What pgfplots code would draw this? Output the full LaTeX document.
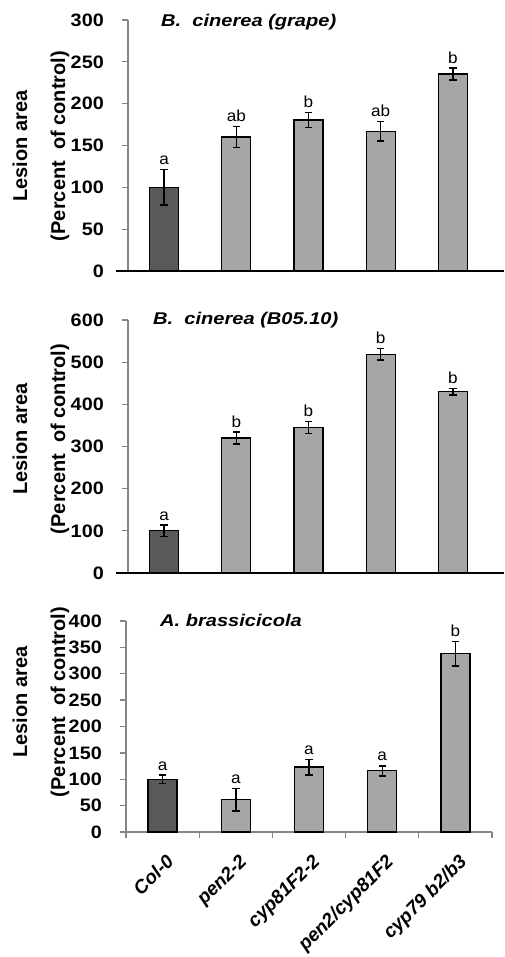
\documentclass[border=0pt]{standalone}
\usepackage{fontspec}
\setmainfont{Liberation Sans}
\usepackage{pgfplots}
\pgfplotsset{compat=1.18}
\definecolor{darkbar}{HTML}{595959}
\definecolor{lightbar}{HTML}{A6A6A6}
\definecolor{axgray}{HTML}{868686}
\pgfplotsset{
 panel/.style={
  scale only axis,
  xmin=-0.5, xmax=4.5, ymin=0,
  axis x line=bottom, axis y line=left,
  axis line style={-, axgray, line width=1.3pt},
  tick align=outside, major tick length=6pt, minor tick length=6pt,
  ytick style={axgray, line width=1.3pt},
  yticklabel style={inner sep=0pt, anchor=east, xshift=-18pt, xscale=1.1, font=\bfseries\fontsize{18}{20}\selectfont},
  /pgf/number format/assume math mode=true,
  ybar, bar width=29pt,
  clip=false,
 },
 mybar/.style={bar shift=0pt, draw=black, line width=1.3pt, fill=#1,
  error bars/.cd, y dir=both, y explicit,
  error bar style={black, line width=1.4pt},
  error mark options={rotate=90, mark size=3.7pt, line width=1.4pt, black}},
}
\tikzset{letter/.style={anchor=south, inner sep=0pt, yshift=4.5pt, xscale=1.07, font=\fontsize{16}{18}\selectfont},
 ylab/.style={rotate=90, anchor=base, inner sep=0pt, font=\bfseries\fontsize{20}{22}\selectfont},
 ttl/.style={anchor=base west, inner sep=0pt, xscale=1.18, font=\bfseries\itshape\fontsize{17}{20}\selectfont}}
\begin{document}
\begin{tikzpicture}
\useasboundingbox (0,0) rectangle (504pt,-957pt);
% ---------- panel 1
\node[ylab] at (27pt,-146pt) {Lesion area};
\node[ylab] at (65pt,-146pt) {(Percent\ \ of control)};
\node[ttl] at (161pt,-27pt) {B.\ \ cinerea (grape)};
\begin{axis}[panel, at={(128pt,-271pt)}, anchor=south west, width=361pt, height=251pt,
  ymax=300, ytick={0,50,...,300}, xtick=\empty, x axis line style={draw=none}]
\addplot[mybar=darkbar] coordinates {(0,100) +- (0,21)};
\addplot[mybar=lightbar] coordinates {(1,160) +- (0,12.5) (2,180.5) +- (0,9) (3,167) +- (0,11.5) (4,235.5) +- (0,7)};
\draw[black, line width=1.3pt] ([xshift=-12pt]rel axis cs:0,0) -- ([xshift=15pt]rel axis cs:1,0);
\node[letter] at (axis cs:0,121) {a};
\node[letter] at (axis cs:1,172.5) {ab};
\node[letter] at (axis cs:2,189.5) {b};
\node[letter] at (axis cs:3,178.5) {ab};
\node[letter] at (axis cs:4,242.5) {b};
\end{axis}
% ---------- panel 2
\node[ylab] at (27pt,-439pt) {Lesion area};
\node[ylab] at (65pt,-439pt) {(Percent\ \ of control)};
\node[ttl] at (153pt,-324pt) {B.\ \ cinerea (B05.10)};
\begin{axis}[panel, at={(128pt,-573pt)}, anchor=south west, width=361pt, height=253pt,
  ymax=600, ytick={0,100,...,600}, xtick=\empty, x axis line style={draw=none}]
\addplot[mybar=darkbar] coordinates {(0,100) +- (0,14)};
\addplot[mybar=lightbar] coordinates {(1,320) +- (0,14.5) (2,345) +- (0,14) (3,519) +- (0,14) (4,430) +- (0,8)};
\draw[black, line width=1.3pt] ([xshift=-12pt]rel axis cs:0,0) -- ([xshift=15pt]rel axis cs:1,0);
\node[letter] at (axis cs:0,114) {a};
\node[letter] at (axis cs:1,334.5) {b};
\node[letter] at (axis cs:2,359) {b};
\node[letter] at (axis cs:3,533) {b};
\node[letter] at (axis cs:4,438) {b};
\end{axis}
% ---------- panel 3
\node[ylab] at (27pt,-702pt) {Lesion area};
\node[ylab] at (65pt,-702pt) {(Percent\ \ of control)};
\node[ttl] at (160pt,-626pt) {A. brassicicola};
\begin{axis}[panel, at={(126pt,-832pt)}, anchor=south west, width=366pt, height=211pt,
  ymax=400, ytick={0,50,...,400},
  xtick={0,1,2,3,4},
  xticklabels={Col-0, pen2-2, cyp81F2-2, pen2/cyp81F2, cyp79 b2/b3},
  major x tick style={draw=none},
  minor xtick={-0.5,0.5,1.5,2.5,3.5,4.5},
  minor x tick style={axgray, line width=1.3pt},
  xticklabel style={inner sep=0pt, xshift=2.5pt, yshift=-15pt, rotate=45, anchor=north east,
    font=\bfseries\itshape\fontsize{19}{22}\selectfont}]
\addplot[mybar=darkbar] coordinates {(0,100) +- (0,8)};
\addplot[mybar=lightbar] coordinates {(1,61) +- (0,21) (2,123) +- (0,15) (3,116) +- (0,9.5) (4,338) +- (0,23)};
\node[letter] at (axis cs:0,108) {a};
\node[letter] at (axis cs:1,82) {a};
\node[letter] at (axis cs:2,138) {a};
\node[letter] at (axis cs:3,125.5) {a};
\node[letter] at (axis cs:4,361) {b};
\end{axis}
\end{tikzpicture}
\end{document}
